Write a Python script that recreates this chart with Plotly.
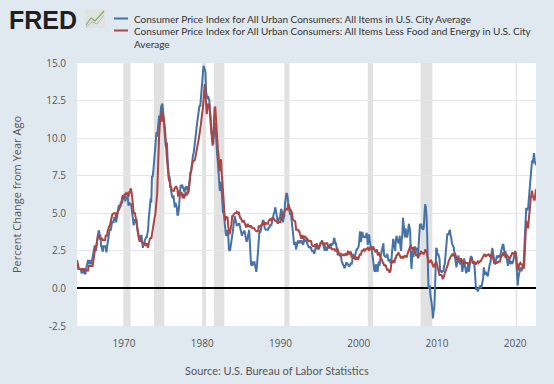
import pandas as pd
import plotly.graph_objects as go

# CPI All Items, percent change from year ago (monthly, Jan 1964 - Sep 2022)
cpi_all_items = [
    1.6,1.6,1.3,1.3,1.3,1.3,1.3,1.0,1.3,1.0,1.3,1.3,  # 1964
    1.0,1.0,1.3,1.6,1.6,1.9,1.6,1.9,1.6,1.9,1.6,1.9,  # 1965
    1.9,2.5,2.5,2.8,2.8,2.5,2.8,3.5,3.5,3.8,3.8,3.5,  # 1966
    3.5,2.8,2.8,2.5,2.5,2.8,2.8,2.8,2.8,2.4,2.7,3.0,  # 1967
    3.6,3.9,3.9,3.9,3.9,4.2,4.5,4.4,4.4,4.7,4.7,4.7,  # 1968
    4.4,4.7,5.2,5.5,5.5,5.5,5.4,5.7,5.7,5.7,5.9,6.2,  # 1969
    6.2,6.1,5.8,6.1,6.0,6.0,6.0,5.5,5.7,5.6,5.6,5.6,  # 1970
    5.3,5.0,4.7,4.2,4.4,4.6,4.4,4.6,4.1,3.8,3.5,3.3,  # 1971
    3.3,3.5,3.5,3.5,3.2,2.7,2.9,2.9,3.2,3.4,3.4,3.4,  # 1972
    3.6,3.9,4.6,5.0,5.5,6.0,5.7,7.5,7.4,7.8,8.3,8.7,  # 1973
    9.4,10.0,10.4,10.1,10.7,10.9,11.5,10.9,11.9,12.1,12.2,12.3,  # 1974
    11.8,11.2,10.3,10.2,9.5,9.4,9.7,8.6,7.9,7.4,7.4,6.9,  # 1975
    6.7,6.3,6.1,6.0,6.2,5.9,5.4,5.7,5.5,5.4,4.9,4.9,  # 1976
    5.2,5.9,6.4,6.9,6.7,6.9,6.8,6.6,6.6,6.4,6.7,6.7,  # 1977
    6.8,6.4,6.4,6.5,7.0,7.4,7.7,7.8,8.3,8.9,8.9,9.0,  # 1978
    9.3,9.8,10.1,10.5,10.9,11.3,11.8,12.2,12.2,12.1,12.6,13.3,  # 1979
    13.9,14.2,14.8,14.7,14.4,14.4,13.1,12.9,12.6,12.8,12.6,12.5,  # 1980
    11.8,11.4,10.5,10.0,9.8,9.6,10.8,10.8,11.0,10.1,9.6,8.9,  # 1981
    8.4,7.6,6.8,6.5,6.7,7.1,6.4,5.9,5.0,5.1,4.6,3.8,  # 1982
    3.7,3.5,3.6,3.9,3.5,2.6,2.5,2.6,2.9,2.9,3.3,3.8,  # 1983
    4.2,4.6,4.8,4.6,4.2,4.2,4.2,4.3,4.3,4.3,4.1,3.9,  # 1984
    3.5,3.5,3.7,3.7,3.8,3.8,3.6,3.3,3.1,3.2,3.5,3.8,  # 1985
    3.9,3.1,2.2,1.6,1.5,1.8,1.6,1.6,1.8,1.5,1.3,1.1,  # 1986
    1.5,2.1,3.0,3.8,3.9,3.7,3.9,4.3,4.3,4.5,4.5,4.4,  # 1987
    4.0,3.9,3.9,3.9,3.9,3.9,4.1,4.0,4.2,4.2,4.2,4.4,  # 1988
    4.7,4.8,5.0,5.1,5.4,5.2,5.0,4.7,4.3,4.5,4.7,4.6,  # 1989
    5.2,5.3,5.2,4.7,4.4,4.7,4.8,5.6,6.2,6.3,6.3,6.1,  # 1990
    5.6,5.3,4.9,4.9,5.0,4.7,4.4,3.8,3.4,2.9,3.0,3.1,  # 1991
    2.6,2.8,3.2,3.2,3.0,3.1,3.2,3.1,3.0,3.2,3.0,2.9,  # 1992
    3.3,3.2,3.1,3.2,3.2,3.0,2.8,2.8,2.7,2.8,2.7,2.7,  # 1993
    2.5,2.5,2.5,2.4,2.3,2.5,2.8,2.9,3.0,2.6,2.7,2.7,  # 1994
    2.8,2.9,2.9,3.1,3.2,3.0,2.8,2.6,2.5,2.8,2.6,2.5,  # 1995
    2.7,2.7,2.8,2.9,2.9,2.8,3.0,2.9,3.0,3.0,3.3,3.3,  # 1996
    3.0,3.0,2.8,2.5,2.2,2.3,2.2,2.2,2.2,2.1,1.8,1.7,  # 1997
    1.6,1.4,1.4,1.4,1.7,1.7,1.7,1.6,1.5,1.5,1.5,1.6,  # 1998
    1.7,1.6,1.7,2.3,2.1,2.0,2.1,2.3,2.6,2.6,2.6,2.7,  # 1999
    2.8,3.2,3.8,3.1,3.2,3.7,3.7,3.4,3.5,3.4,3.4,3.4,  # 2000
    3.7,3.5,2.9,3.3,3.6,3.2,2.7,2.7,2.6,2.1,1.9,1.6,  # 2001
    1.2,1.1,1.5,1.6,1.2,1.1,1.5,1.8,1.5,2.0,2.2,2.4,  # 2002
    2.6,3.0,3.0,2.2,2.1,2.1,2.1,2.2,2.3,2.0,1.8,1.9,  # 2003
    1.9,1.7,1.7,2.3,3.1,3.3,3.0,2.7,2.5,3.2,3.5,3.3,  # 2004
    3.0,3.0,3.1,3.5,2.8,2.5,3.2,3.6,4.7,4.3,3.5,3.4,  # 2005
    4.0,3.6,3.4,3.5,4.2,4.3,4.1,3.8,2.1,1.3,2.0,2.5,  # 2006
    2.1,2.4,2.8,2.6,2.7,2.7,2.4,2.0,2.8,3.5,4.3,4.1,  # 2007
    4.3,4.0,4.0,3.9,4.1,5.0,5.6,5.4,4.9,3.7,1.1,0.1,  # 2008
    0.0,0.2,-0.4,-0.6,-1.0,-1.4,-2.0,-1.5,-1.3,-0.2,1.8,2.7,  # 2009
    2.6,2.2,2.3,2.2,2.0,1.1,1.2,1.1,1.1,1.2,1.1,1.5,  # 2010
    1.6,2.1,2.7,3.2,3.6,3.6,3.6,3.8,3.9,3.5,3.4,3.0,  # 2011
    2.9,2.9,2.7,2.3,1.7,1.7,1.4,1.7,2.0,2.2,1.8,1.7,  # 2012
    1.6,2.0,1.5,1.1,1.4,1.8,2.0,1.5,1.2,1.0,1.2,1.5,  # 2013
    1.6,1.1,1.5,2.0,2.1,2.1,2.0,1.7,1.7,1.7,1.3,0.8,  # 2014
    -0.1,0.0,-0.1,-0.2,0.0,0.1,0.2,0.2,0.0,0.2,0.5,0.7,  # 2015
    1.4,1.0,0.9,1.1,1.0,1.0,0.8,1.1,1.5,1.6,1.7,2.1,  # 2016
    2.5,2.7,2.4,2.2,1.9,1.6,1.7,1.9,2.2,2.0,2.2,2.1,  # 2017
    2.1,2.2,2.4,2.5,2.8,2.9,2.9,2.7,2.3,2.5,2.2,1.9,  # 2018
    1.6,1.5,1.9,2.0,1.8,1.6,1.8,1.7,1.7,1.8,2.1,2.3,  # 2019
    2.5,2.3,1.5,0.3,0.2,0.7,1.0,1.3,1.4,1.2,1.2,1.4,  # 2020
    1.4,1.7,2.6,4.2,5.0,5.3,5.3,5.2,5.4,6.2,6.8,7.0,  # 2021
    7.5,7.9,8.5,8.3,8.6,9.0,8.5,8.3,8.2,  # 2022
]

# CPI Less Food and Energy, percent change from year ago
cpi_core = [
    1.9,1.6,1.3,1.3,1.3,1.3,1.3,1.3,1.3,1.3,1.3,1.3,  # 1964
    1.2,1.2,1.2,1.2,1.2,1.2,1.5,1.5,1.5,1.5,1.5,1.5,  # 1965
    1.5,1.8,2.1,2.4,2.7,2.7,3.0,3.3,3.5,3.5,3.5,3.3,  # 1966
    3.3,3.3,3.3,3.3,3.2,3.2,3.2,3.2,3.5,3.5,3.5,3.8,  # 1967
    4.1,4.1,4.1,4.4,4.4,4.7,4.9,5.0,5.0,5.0,5.0,5.0,  # 1968
    4.7,4.9,5.0,5.2,5.2,5.3,5.3,5.5,5.7,5.9,6.2,6.1,  # 1969
    6.1,6.3,6.2,6.3,6.4,6.3,6.2,6.1,6.4,6.4,6.6,6.6,  # 1970
    6.3,6.0,5.5,5.0,5.0,5.0,4.7,4.6,4.2,3.9,3.6,3.1,  # 1971
    3.1,3.3,3.3,3.1,3.0,3.0,3.0,3.0,3.0,2.9,3.0,3.0,  # 1972
    2.8,2.7,3.0,3.3,3.3,3.4,3.3,3.6,3.9,4.4,4.7,4.7,  # 1973
    4.9,5.2,5.8,6.3,8.2,9.0,10.2,10.9,11.4,11.4,11.8,11.1,  # 1974
    11.6,11.4,11.0,10.6,9.7,9.3,8.6,8.1,7.5,7.2,7.2,6.7,  # 1975
    6.8,6.6,6.5,6.5,6.5,6.5,6.7,6.7,6.8,6.6,6.6,6.1,  # 1976
    6.5,6.4,6.2,6.3,6.4,6.3,6.0,6.3,6.0,6.1,6.4,6.4,  # 1977
    6.2,6.3,6.4,6.4,6.7,7.3,7.6,7.8,8.1,8.5,8.5,8.5,  # 1978
    8.5,8.6,8.8,9.0,9.2,9.6,9.6,10.0,10.3,10.5,10.9,11.3,  # 1979
    12.0,12.0,12.5,12.9,13.6,13.0,12.4,11.6,12.0,12.3,12.2,12.2,  # 1980
    11.5,11.0,10.4,9.6,9.5,10.1,11.7,12.0,12.1,11.4,10.6,9.5,  # 1981
    9.3,8.9,8.2,7.8,8.2,8.6,7.7,7.0,5.9,5.6,5.2,4.5,  # 1982
    4.7,4.8,4.7,4.7,4.1,3.6,3.6,3.8,4.0,4.3,4.8,4.8,  # 1983
    4.9,5.0,5.0,5.0,5.0,5.1,5.0,5.0,5.1,4.8,4.7,4.7,  # 1984
    4.6,4.5,4.4,4.5,4.5,4.4,4.2,4.1,4.1,4.2,4.3,4.1,  # 1985
    4.2,4.1,4.1,4.2,4.0,4.0,4.0,4.0,4.0,3.9,3.8,3.8,  # 1986
    3.8,3.8,3.9,4.2,4.1,4.2,4.2,4.2,4.3,4.3,4.4,4.2,  # 1987
    4.3,4.4,4.3,4.3,4.3,4.3,4.5,4.6,4.6,4.6,4.5,4.7,  # 1988
    4.6,4.7,4.6,4.5,4.5,4.5,4.4,4.4,4.4,4.4,4.4,4.4,  # 1989
    4.4,4.6,4.9,4.8,4.8,5.0,5.1,5.3,5.3,5.3,5.3,5.2,  # 1990
    5.6,5.5,5.2,5.2,5.2,5.1,5.0,4.6,4.5,4.5,4.5,4.4,  # 1991
    3.9,3.9,3.9,3.9,3.8,3.8,3.6,3.5,3.3,3.5,3.5,3.3,  # 1992
    3.5,3.5,3.4,3.4,3.3,3.3,3.2,3.2,3.1,3.2,3.1,3.2,  # 1993
    2.9,2.8,2.8,2.8,2.8,2.9,2.9,2.9,2.9,2.8,2.8,2.6,  # 1994
    2.9,3.0,3.0,3.1,3.1,3.0,3.0,3.0,2.9,3.0,3.0,3.0,  # 1995
    3.0,2.8,2.8,2.7,2.7,2.7,2.7,2.6,2.6,2.6,2.6,2.6,  # 1996
    2.5,2.5,2.5,2.7,2.5,2.4,2.3,2.2,2.2,2.3,2.2,2.2,  # 1997
    2.2,2.3,2.2,2.2,2.3,2.3,2.2,2.5,2.5,2.3,2.3,2.4,  # 1998
    2.4,2.1,2.1,2.2,2.0,2.1,2.1,1.9,2.0,2.1,2.1,1.9,  # 1999
    2.0,2.2,2.3,2.2,2.4,2.5,2.5,2.6,2.6,2.5,2.6,2.6,  # 2000
    2.6,2.7,2.7,2.6,2.5,2.7,2.7,2.7,2.6,2.6,2.8,2.7,  # 2001
    2.6,2.6,2.4,2.5,2.6,2.3,2.2,2.4,2.2,2.2,2.0,1.9,  # 2002
    1.9,1.7,1.7,1.5,1.6,1.5,1.5,1.3,1.2,1.3,1.1,1.1,  # 2003
    1.1,1.2,1.6,1.8,1.7,1.9,1.8,1.7,2.0,2.0,2.2,2.2,  # 2004
    2.3,2.4,2.3,2.2,2.2,2.0,2.1,2.1,2.0,2.1,2.1,2.2,  # 2005
    2.1,2.1,2.1,2.3,2.4,2.6,2.7,2.8,2.9,2.7,2.6,2.6,  # 2006
    2.7,2.7,2.5,2.3,2.2,2.2,2.2,2.1,2.1,2.2,2.3,2.4,  # 2007
    2.5,2.3,2.4,2.3,2.3,2.4,2.6,2.5,2.5,2.2,2.0,1.8,  # 2008
    1.7,1.8,1.8,1.9,1.8,1.7,1.5,1.4,1.5,1.7,1.7,1.8,  # 2009
    1.6,1.3,1.1,0.9,0.9,0.9,0.9,0.9,0.8,0.6,0.8,0.8,  # 2010
    1.0,1.1,1.2,1.3,1.5,1.6,1.8,2.0,2.0,2.1,2.2,2.2,  # 2011
    2.3,2.2,2.3,2.3,2.3,2.2,2.1,1.9,2.0,2.0,1.9,1.9,  # 2012
    1.9,2.0,1.9,1.7,1.7,1.6,1.7,1.8,1.7,1.7,1.7,1.7,  # 2013
    1.6,1.6,1.7,1.8,2.0,1.9,1.9,1.7,1.7,1.8,1.7,1.6,  # 2014
    1.6,1.7,1.8,1.8,1.7,1.8,1.8,1.8,1.9,1.9,2.0,2.1,  # 2015
    2.2,2.3,2.2,2.1,2.2,2.2,2.2,2.3,2.2,2.1,2.1,2.2,  # 2016
    2.3,2.2,2.0,1.9,1.7,1.7,1.7,1.7,1.7,1.8,1.7,1.8,  # 2017
    1.8,1.8,2.1,2.1,2.2,2.3,2.4,2.2,2.2,2.1,2.2,2.2,  # 2018
    2.2,2.1,2.0,2.1,2.0,2.1,2.2,2.4,2.4,2.3,2.3,2.3,  # 2019
    2.3,2.4,2.1,1.4,1.2,1.2,1.6,1.7,1.7,1.6,1.6,1.6,  # 2020
    1.4,1.3,1.6,3.0,3.8,4.5,4.3,4.0,4.0,4.6,4.9,5.5,  # 2021
    6.0,6.4,6.5,6.2,6.0,5.9,5.9,6.3,6.6,  # 2022
]

start_month = "1964-01-01"

# NBER recessions (start, end)
recession_starts = ["1969-12-01", "1973-11-01", "1980-01-01", "1981-07-01",
                    "1990-07-01", "2001-03-01", "2007-12-01", "2020-02-01"]
recession_ends = ["1970-11-01", "1975-03-01", "1980-07-01", "1982-11-01",
                  "1991-03-01", "2001-11-01", "2009-06-01", "2020-04-01"]

y_tick_vals = [-2.5, 0.0, 2.5, 5.0, 7.5, 10.0, 12.5, 15.0]
y_tick_text = ["-2.5", "0.0", "2.5", "5.0", "7.5", "10.0", "12.5", "15.0"]
x_tick_vals = ["1970-01-01", "1980-01-01", "1990-01-01", "2000-01-01", "2010-01-01", "2020-01-01"]
x_tick_text = ["1970", "1980", "1990", "2000", "2010", "2020"]

series_names = [
    "Consumer Price Index for All Urban Consumers: All Items in U.S. City Average",
    "Consumer Price Index for All Urban Consumers: All Items Less Food and Energy in U.S. City Average",
]
series_colors = ["#4572a7", "#aa4643"]
# legend text as wrapped in the reference
legend_lines = [
    "Consumer Price Index for All Urban Consumers: All Items in U.S. City Average",
    "Consumer Price Index for All Urban Consumers: All Items Less Food and Energy in U.S. City",
    "Average",
]

dates_all = pd.date_range(start_month, periods=len(cpi_all_items), freq="MS")
dates_core = pd.date_range(start_month, periods=len(cpi_core), freq="MS")

FONT = "Open Sans, Noto Sans, sans-serif"
TFONT = "Lato, Open Sans, sans-serif"
BG = "#e1e9f0"

fig = go.Figure()
fig.add_trace(go.Scatter(x=dates_all, y=cpi_all_items, mode="lines", name=series_names[0],
                         line=dict(color=series_colors[0], width=2), showlegend=False))
fig.add_trace(go.Scatter(x=dates_core, y=cpi_core, mode="lines", name=series_names[1],
                         line=dict(color=series_colors[1], width=2), showlegend=False))

for s, e in zip(recession_starts, recession_ends):
    fig.add_vrect(x0=s, x1=e, fillcolor="#e1e1e1", line_width=0, layer="below", opacity=1)

W, H = 554, 384
ml, mr, mt, mb = 77, 18, 63, 58
pw = W - ml - mr
ph = H - mt - mb

def px_x(p):
    return (p - ml) / pw

def px_y(p):
    return (H - mb - p) / ph

# FRED logo
fig.add_annotation(text="<b>FRED</b>", xref="paper", yref="paper", x=px_x(7), y=px_y(20),
                   xanchor="left", yanchor="middle", showarrow=False,
                   font=dict(family="Liberation Sans, Arial, sans-serif", size=25, color="#231f20"))
fig.add_shape(type="rect", xref="paper", yref="paper", x0=px_x(85), x1=px_x(105),
              y0=px_y(28), y1=px_y(9), fillcolor="#dfe5de", line_width=0, layer="above")
fig.add_shape(type="path", xref="paper", yref="paper",
              path=f"M {px_x(86)} {px_y(25)} L {px_x(91)} {px_y(18)} L {px_x(95)} {px_y(21)} L {px_x(104)} {px_y(11)}",
              line=dict(color="#7fa86a", width=1.2), layer="above")
fig.add_shape(type="path", xref="paper", yref="paper",
              path=f"M {px_x(86)} {px_y(27)} L {px_x(92)} {px_y(22)} L {px_x(97)} {px_y(24)} L {px_x(104)} {px_y(15)}",
              line=dict(color="#a8b8c8", width=1.0), layer="above")

# legend (drawn to match the reference's tight line spacing)
legend_y = [18.5, 30.5, 44]
for i, color in enumerate(series_colors):
    fig.add_shape(type="line", xref="paper", yref="paper",
                  x0=px_x(114), x1=px_x(128), y0=px_y(legend_y[i]), y1=px_y(legend_y[i]),
                  line=dict(color=color, width=2), layer="above")
for txt, yy in zip(legend_lines, legend_y):
    fig.add_annotation(text=txt, xref="paper", yref="paper", x=px_x(132), y=px_y(yy),
                       xanchor="left", yanchor="middle", showarrow=False,
                       font=dict(family=TFONT, size=10, color="#333333"))

fig.add_annotation(text="Source: U.S. Bureau of Labor Statistics", xref="paper", yref="paper",
                   x=px_x(277), y=px_y(370), xanchor="center", yanchor="middle", showarrow=False,
                   font=dict(family=TFONT, size=11, color="#555555"))

fig.update_layout(
    width=W, height=H,
    margin=dict(l=ml, r=mr, t=mt, b=mb, autoexpand=False),
    paper_bgcolor=BG, plot_bgcolor="white",
    font=dict(family=FONT, color="#555555"),
    showlegend=False,
    xaxis=dict(type="date", range=["1964-01-01", "2022-09-01"], showgrid=False,
               tickvals=x_tick_vals, ticktext=x_tick_text, ticks="", ticklabelstandoff=10,
               tickfont=dict(size=10, color="#555555"), showline=False, zeroline=False),
    yaxis=dict(range=[-2.5, 15.0], tickvals=y_tick_vals, ticktext=y_tick_text,
               showgrid=True, gridcolor="#e6e6e6", gridwidth=1,
               zeroline=True, zerolinecolor="black", zerolinewidth=2,
               tickfont=dict(size=10, color="#555555"), ticks="", ticklabelstandoff=10,
               title=dict(text="Percent Change from Year Ago", font=dict(size=11, color="#555555"),
                          standoff=22)),
)

fig.write_html("out.html", config={"displayModeBar": False},
               post_script="document.body.style.margin='0';")
